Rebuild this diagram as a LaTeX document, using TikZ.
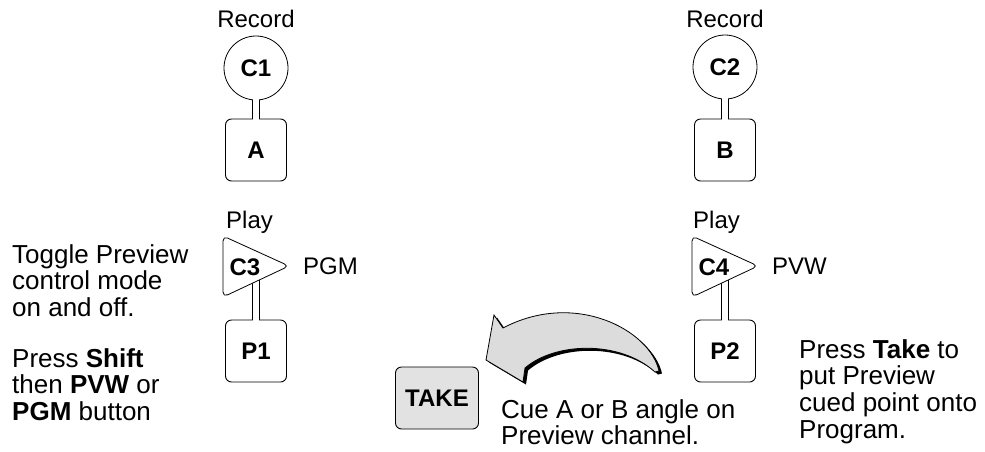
\documentclass[tikz,border=0pt]{standalone}
\usepackage{fontspec}
\setmainfont{Liberation Sans}
\definecolor{keygray}{HTML}{E2E2E2}
\definecolor{arrowgray}{HTML}{DCDCDC}
\tikzset{
  unit/.style={draw, line width=0.9pt, fill=white, rounded corners=6pt,
    minimum width=61pt, minimum height=62pt, inner sep=0pt,
    font=\fontsize{24}{24}\selectfont\bfseries},
  cam/.style={draw, line width=0.8pt, fill=white, circle, minimum size=64pt,
    inner sep=0pt, font=\fontsize{24}{24}\selectfont\bfseries},
  stemline/.style={line width=0.8pt},
  tag/.style={inner sep=0pt, font=\fontsize{24}{24}\selectfont},
  note/.style={inner sep=0pt, align=left, font=\fontsize{26}{26.7}\selectfont},
  takearrow/.style={insert path={(659,371) .. controls (650,330) and (575,290) .. (503,328)
    -- (494,315) -- (486,360) -- (523,382) -- (525,368)
    .. controls (555,342) and (620,340) .. (655,372) -- cycle}}
}
% open two-line link from an upper point #1 down to a lower point #2
\newcommand{\stemlink}[2]{%
  \fill[white] ([xshift=-2.7pt, yshift=1.5pt]#1) rectangle ([xshift=2.7pt, yshift=-1.5pt]#2);
  \draw[stemline] ([xshift=-3.2pt]#1) -- ([xshift=-3.2pt]#2);
  \draw[stemline] ([xshift=3.2pt]#1) -- ([xshift=3.2pt]#2);}
\begin{document}
\begin{tikzpicture}[x=1pt, y=-1pt]
    \useasboundingbox (0,0) rectangle (985,451);

    % record side
    \node[tag] (rec1) at (256,19) {Record};
    \node[tag] (rec2) at (725,19) {Record};
    \node[cam] (C1) at (256,68) {C1};
    \node[cam] (C2) at (725,67) {C2};
    \node[unit] (A) at (256,150) {A};
    \node[unit] (B) at (725,150) {B};
    \stemlink{C1.south}{A.north}
    \stemlink{C2.south}{B.north}

    % play side
    \node[tag, anchor=west] (play1) at (226,222) {Play};
    \node[tag, anchor=west] (play2) at (693,222) {Play};
    \node[unit] (P1) at (256,351) {P1};
    \node[unit] (P2) at (725,351) {P2};
    \coordinate (C3stem) at (256,276);
    \coordinate (C4stem) at (725,276);
    \stemlink{C3stem}{P1.north}
    \stemlink{C4stem}{P2.north}
    \draw[line width=0.8pt, fill=white, rounded corners=5pt]
        (223,236) -- (289,266) -- (223,297) -- cycle;
    \draw[line width=0.8pt, fill=white, rounded corners=5pt]
        (692,236) -- (758,266) -- (692,297) -- cycle;
    \node[inner sep=0pt, font=\fontsize{24}{24}\selectfont\bfseries] (C3) at (245,267) {C3};
    \node[inner sep=0pt, font=\fontsize{24}{24}\selectfont\bfseries] (C4) at (714,267) {C4};
    \node[tag, anchor=west] (pgm) at (303,266) {PGM};
    \node[tag, anchor=west] (pvw) at (772,266) {PVW};

    % take key and cue arrow
    \node[unit, fill=keygray, minimum width=83pt] (take) at (437,398) {TAKE};
    \fill[black, shift={(3,2.5)}, takearrow];
    \draw[line width=0.8pt, fill=arrowgray, takearrow];

    % notes
    \node[note, anchor=north west] (toggle) at (12,244) {Toggle Preview\\control mode\\on and off.};
    \node[note, anchor=north west] (shift) at (12,348) {Press \textbf{Shift}\\then \textbf{PVW} or\\\textbf{PGM} button};
    \node[note, anchor=north west] (cue) at (501,399) {Cue A or B angle on\\Preview channel.};
    \node[note, anchor=north west] (press) at (799,339) {Press \textbf{Take} to\\put Preview\\cued point onto\\Program.};

\end{tikzpicture}
\end{document}
